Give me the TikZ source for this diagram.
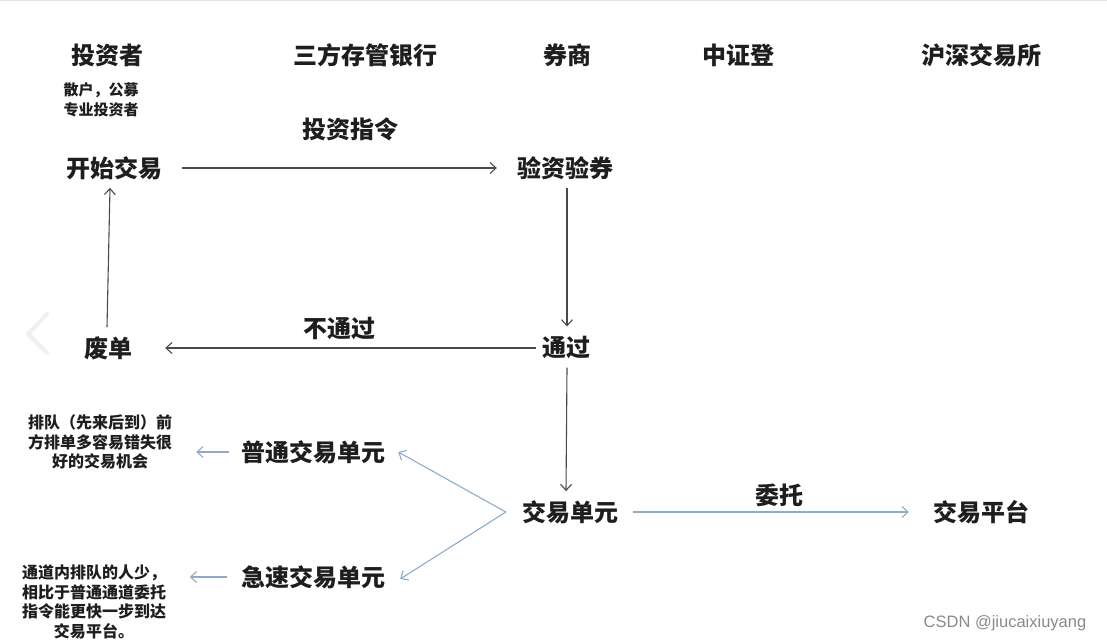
\documentclass[tikz,border=0pt]{standalone}
\usepackage{fontspec}
\setmainfont{Liberation Sans}
\newfontfamily\cjk{Noto Sans CJK SC}
\usetikzlibrary{arrows.meta}
\definecolor{txt}{HTML}{1E1E1E}
\definecolor{arrc}{HTML}{4A4A4A}
\definecolor{bluec}{HTML}{8FAACB}
\definecolor{wm}{HTML}{8A8A8A}
\begin{document}
\begin{tikzpicture}[x=1pt,y=-1pt,
  lbl/.style={font=\cjk\bfseries\fontsize{24}{28}\selectfont, text=txt, inner sep=0pt},
  sm/.style={font=\cjk\bfseries\fontsize{15}{20}\selectfont, text=txt, inner sep=0pt, align=center},
  note/.style={font=\cjk\bfseries\fontsize{16}{19.5}\selectfont, text=txt, inner sep=0pt, align=center},
  arr/.style={draw=arrc, line width=1.1pt, -{Straight Barb[length=6pt,width=11pt]}},
  barr/.style={draw=bluec, line width=1.1pt, -{Straight Barb[length=6pt,width=11pt]}}]
\fill[white] (0,0) rectangle (1107,642);
\useasboundingbox (0,0) rectangle (1107,642);
\draw[gray!20, line width=1pt] (0,0.5) -- (1107,0.5);
% faint carousel chevron
\draw[gray!12, line width=4pt, line cap=round, line join=round] (47,314) -- (28,334) -- (47,353);

% headers
\node[lbl] (h1) at (107,55) {投资者};
\node[lbl] (h2) at (365,55) {三方存管银行};
\node[lbl] (h3) at (567,55) {券商};
\node[lbl] (h4) at (738,55) {中证登};
\node[lbl] (h5) at (981,55) {沪深交易所};
\node[sm] (sub) at (101,100) {散户，公募\\专业投资者};

% main nodes
\node[lbl] (ks) at (114,168) {开始交易};
\node[lbl] (yz) at (565,168) {验资验券};
\node[lbl] (tg) at (566,348) {通过};
\node[lbl] (fd) at (108,348) {废单};
\node[lbl] (jy) at (570,512) {交易单元};
\node[lbl] (pt) at (313,452) {普通交易单元};
\node[lbl] (js) at (313,577) {急速交易单元};
\node[lbl] (jp) at (981,512) {交易平台};

% notes
\node[note] (n1) at (100,442) {排队（先来后到）前\\方排单多容易错失很\\好的交易机会};
\node[note] (n2) at (94,602) {通道内排队的人少，\\相比于普通通道委托\\指令能更快一步到达\\交易平台。};

% connectors
\draw[arr] ([xshift=20pt]ks.east) -- node[lbl, above=26pt, pos=0.535] (l1) {投资指令} ([xshift=-20pt]yz.west);
\draw[arr] ([xshift=2pt,yshift=-8pt]yz.south) -- ([xshift=1pt,yshift=10pt]tg.north);
\draw[arr] ([xshift=-6pt]tg.west) -- node[lbl, above=8pt, pos=0.53] (l2) {不通过} ([xshift=33pt]fd.east);
\draw[arr] ([xshift=-1pt,yshift=9pt]fd.north) -- ([xshift=-4pt,yshift=-8pt]ks.south);
\draw[arr] ([xshift=1pt,yshift=-8pt]tg.south) -- ([yshift=9pt]jy.north -| tg.south);
\draw[barr] ([xshift=15pt]jy.east) -- node[lbl, above=5pt, pos=0.53] (l3) {委托} ([xshift=-24pt]jp.west);
\coordinate (v) at ([xshift=-16pt]jy.west);
\draw[barr] (v) -- ([xshift=13pt]pt.east);
\draw[barr] (v) -- ([xshift=15pt,yshift=-2pt]js.east);
\draw[barr] ([xshift=-12pt]pt.west) -- ([xshift=24pt]n1.east |- pt.west);
\draw[barr] ([xshift=-14pt]js.west) -- ([xshift=-51pt]js.west);

% watermark
\node[font=\fontsize{16.5}{20}\selectfont, text=wm, inner sep=0pt] (wmk) at (1005,623) {CSDN @jiucaixiuyang};
\end{tikzpicture}
\end{document}
